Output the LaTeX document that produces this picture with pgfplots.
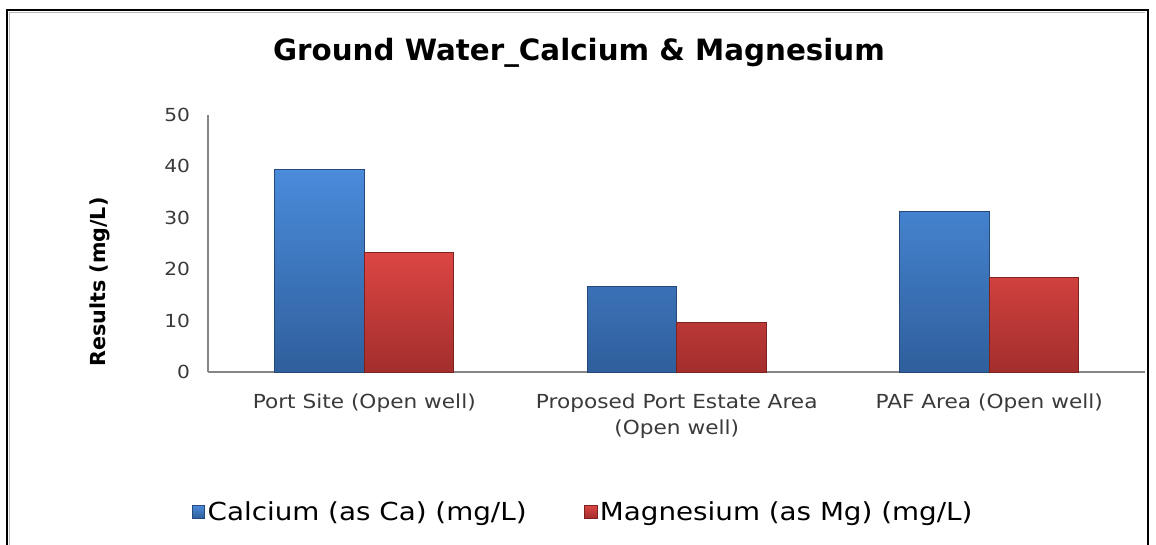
\documentclass[border=0pt]{standalone}
\usepackage{pgfplots}
\pgfplotsset{compat=1.18}
\usepackage{fontspec}
\setmainfont{DejaVu Sans}
\newfontfamily\wide[FakeStretch=1.12]{DejaVu Sans}
\definecolor{blueTop}{HTML}{4A8BDB}
\definecolor{blueBot}{HTML}{2F5F9C}
\definecolor{blueEdge}{HTML}{254A7A}
\definecolor{redTop}{HTML}{DC4644}
\definecolor{redBot}{HTML}{A32E2C}
\definecolor{redEdge}{HTML}{7E2220}
\definecolor{axgray}{HTML}{868686}
\definecolor{txtgray}{HTML}{3A3A3A}
\pgfplotsset{sqlegend/.style={legend image code/.code={\draw[##1, line width=0.4pt] (0pt,-4.5pt) rectangle (9.5pt,5pt);}}}
\begin{document}
\begin{tikzpicture}[x=0.75pt,y=0.75pt]
\useasboundingbox (0,0) rectangle (1156,545);
\draw[line width=1.9pt] (7,-20) -- (7,535) -- (1148,535) -- (1148,-20);
\draw[gray!55, line width=0.8pt] (9.8,-20) -- (9.8,532.2) -- (1145.2,532.2);
\node[font=\fontsize{22}{26}\selectfont\bfseries] at (579,492) {Ground Water\_Calcium \& Magnesium};
\begin{axis}[
 at={(156pt,129.75pt)}, anchor=south west, scale only axis,
 width=703.1pt, height=192.75pt,
 ybar=0pt, bar width=67.1pt,
 xmin=-0.5, xmax=2.5, ymin=0, ymax=50,
 xtick={0,1,2},
 xticklabels={Port Site (Open well), {Proposed Port Estate Area\\(Open well)}, PAF Area (Open well)},
 ytick={0,10,20,30,40,50},
 major tick length=0pt,
 axis x line*=bottom, axis y line*=left,
 axis line style={axgray, line width=1.1pt, -},
 /pgf/number format/assume math mode=true,
 yticklabel style={font=\wide\fontsize{13.5}{16}\selectfont, text=txtgray, xshift=-10pt},
 xticklabel style={font=\wide\fontsize{14.5}{19.5}\selectfont, text=txtgray, align=center, anchor=north, yshift=-12.5pt},
 ylabel={Results (mg/L)},
 ylabel style={font=\fontsize{15.5}{18}\selectfont\bfseries, at={(axis description cs:-0.115,0.35)}, anchor=center},
 legend columns=2,
 legend style={draw=none, fill=none, at={(axis description cs:0.4005,-0.545)}, anchor=center, font=\wide\fontsize{18.6}{22}\selectfont, /tikz/every even column/.append style={column sep=41pt}},
 clip=false,
]
\addplot[draw=blueEdge, line width=0.6pt, top color=blueTop, bottom color=blueBot, sqlegend] coordinates {(0,39.4) (1,16.7) (2,31.2)};
\addplot[draw=redEdge, line width=0.6pt, top color=redTop, bottom color=redBot, sqlegend] coordinates {(0,23.3) (1,9.7) (2,18.4)};
\legend{Calcium (as Ca) (mg/L), Magnesium (as Mg) (mg/L)}
\end{axis}
\end{tikzpicture}
\end{document}
